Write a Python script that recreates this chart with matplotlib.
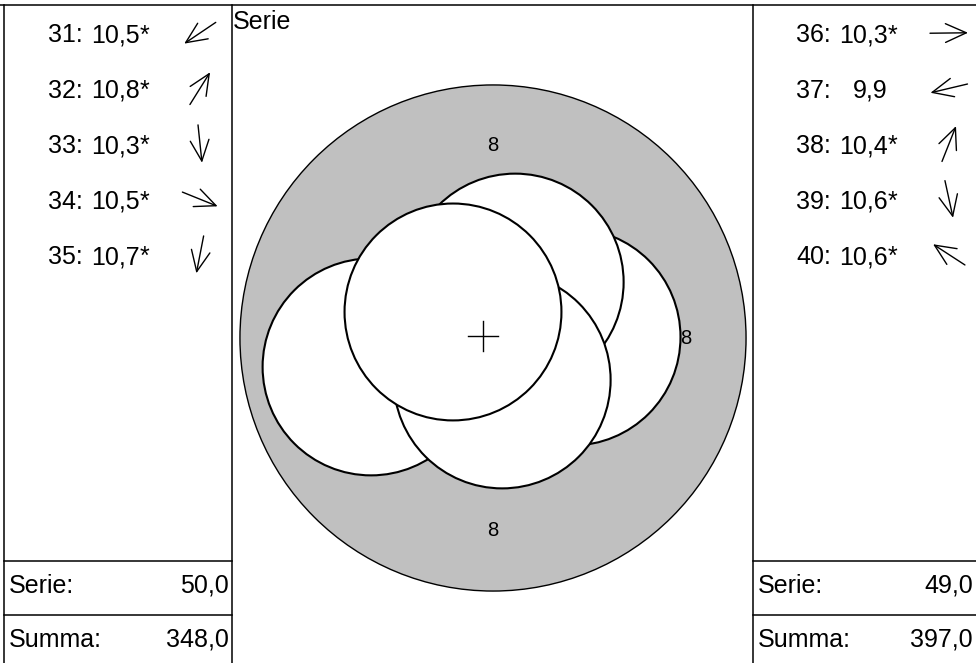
import numpy as np
import matplotlib
matplotlib.use("Agg")
import matplotlib.pyplot as plt
from matplotlib.patches import Circle

plt.rcParams['font.family'] = ['Liberation Sans', 'DejaVu Sans']

# series shown on the left (shots 31-35), only score and direction
left_nums = [31, 32, 33, 34, 35]
left_scores = [10.5, 10.8, 10.3, 10.5, 10.7]
left_inner = [True, True, True, True, True]   # '*' = inner ten
left_angles = [214, 58, 276, 338, 259]        # direction from centre, deg

# current series on the right (shots 36-40), drawn on the target
right_nums = [36, 37, 38, 39, 40]
right_scores = [10.3, 9.9, 10.4, 10.6, 10.6]
right_inner = [True, False, True, True, True]
shot_x = [1.64, -2.53, 0.46, 0.19, -0.83]     # mm from centre
shot_y = [0.02, -0.60, 1.16, -0.87, 0.54]

total_before = 298.0   # total before shot 31

# target (air rifle, mm)
ring8_r = 5.25
ring9_r = 2.75
pellet_r = 2.25
ring_label = "8"


def fmt(v):
    return ("%.1f" % v).replace(".", ",")


left_serie = sum(int(s) for s in left_scores)
left_summa = total_before + left_serie
right_serie = sum(int(s) for s in right_scores)
right_summa = left_summa + right_serie

W, H = 976, 663
fig = plt.figure(figsize=(W / 100, H / 100), dpi=100)

# frame / text layer in pixel coords
ax = fig.add_axes([0, 0, 1, 1])
ax.set_xlim(0, W)
ax.set_ylim(H, 0)
ax.axis('off')

# target layer in mm, centre at pixel (493, 338)
scale = 48.2
cx, cy = 493, 338
tax = fig.add_axes([0, 0, 1, 1])
tax.set_xlim(-cx / scale, (W - cx) / scale)
tax.set_ylim(-(H - cy) / scale, cy / scale)
tax.axis('off')
tax.patch.set_alpha(0)

lw = 1.1
ax.plot([0, W], [5, 5], color='black', lw=lw)
for x in [4, 232, 753]:
    ax.plot([x, x], [5, H], color='black', lw=lw)
for x0, x1 in [(4, 232), (753, W)]:
    for y in [561, 615]:
        ax.plot([x0, x1], [y, y], color='black', lw=lw)

fs = 18
ax.text(233, 29, "Serie", fontsize=fs, va='baseline', ha='left')

arrow_len = 38


def draw_panel(x_lab, x_num, x_arrow, nums, scores, inner, angles):
    for i in range(len(nums)):
        yb = 42.5 + 55.4 * i
        ax.text(x_lab, yb, "%d:" % nums[i], fontsize=fs, va='baseline', ha='left')
        ax.text(x_num, yb, fmt(scores[i]), fontsize=fs, va='baseline', ha='right')
        if inner[i]:
            ax.text(x_num, yb, "*", fontsize=fs, va='baseline', ha='left')
        a = np.radians(angles[i])
        dx = np.cos(a) * arrow_len / 2
        dy = -np.sin(a) * arrow_len / 2
        yc = yb - 9.5
        ax.annotate('', xy=(x_arrow + dx, yc + dy), xytext=(x_arrow - dx, yc - dy),
                    arrowprops=dict(arrowstyle='->,head_length=1.0,head_width=0.45',
                                    lw=1.0, color='black', shrinkA=0, shrinkB=0,
                                    mutation_scale=15))


draw_panel(48, 140, 200, left_nums, left_scores, left_inner, left_angles)
right_angles = np.degrees(np.arctan2(shot_y, shot_x))
draw_panel(796, 888, 949, right_nums, right_scores, right_inner, right_angles)

# series / total rows
for x_lab, x_val, serie, summa in [(9, 229, left_serie, left_summa),
                                   (758, 973, right_serie, right_summa)]:
    ax.text(x_lab, 593, "Serie:", fontsize=fs, va='baseline', ha='left')
    ax.text(x_val, 593, fmt(serie), fontsize=fs, va='baseline', ha='right')
    ax.text(x_lab, 647, "Summa:", fontsize=fs, va='baseline', ha='left')
    ax.text(x_val, 647, fmt(summa), fontsize=fs, va='baseline', ha='right')

# target
tax.add_patch(Circle((0, 0), ring8_r, facecolor='#c0c0c0', edgecolor='black', lw=1.0, zorder=1))
lab_r = (ring8_r + ring9_r) / 2
for a in [0, 90, 180, 270]:
    t = np.radians(a)
    tax.text(lab_r * np.cos(t), lab_r * np.sin(t), ring_label, fontsize=14.5,
             ha='center', va='center', zorder=2)

for i in range(len(shot_x)):
    tax.add_patch(Circle((shot_x[i], shot_y[i]), pellet_r, facecolor='white',
                         edgecolor='black', lw=1.5, zorder=3 + i))

# mean point of impact
mx, my = np.mean(shot_x), np.mean(shot_y)
c = 0.31
tax.plot([mx - c, mx + c], [my, my], color='black', lw=1.0, zorder=10)
tax.plot([mx, mx], [my - c, my + c], color='black', lw=1.0, zorder=10)

fig.savefig("out.png", dpi=100)
